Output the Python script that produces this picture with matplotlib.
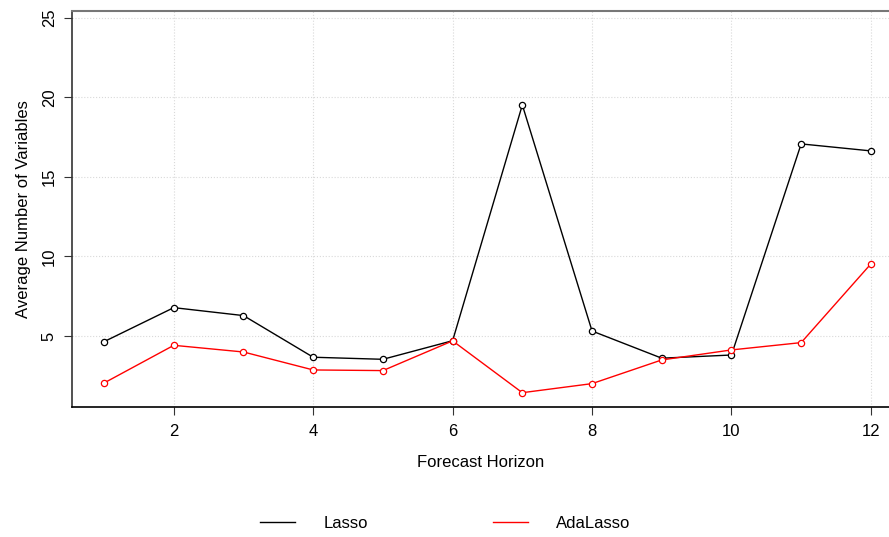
import matplotlib.pyplot as plt
from matplotlib.lines import Line2D

plt.rcParams['font.family'] = ['Liberation Sans', 'DejaVu Sans']

horizon = [1, 2, 3, 4, 5, 6, 7, 8, 9, 10, 11, 12]
lasso = [4.64, 6.78, 6.28, 3.66, 3.53, 4.70, 19.53, 5.31, 3.60, 3.80, 17.08, 16.64]
adalasso = [2.04, 4.41, 3.99, 2.86, 2.82, 4.69, 1.43, 2.00, 3.49, 4.12, 4.58, 9.53]
x_ticks = [2, 4, 6, 8, 10, 12]
y_ticks = [5, 10, 15, 20, 25]

fig = plt.figure(figsize=(8.89, 5.37), dpi=100)
ax = fig.add_axes([0.081, 0.2421, 0.919, 0.7374])

# grid punteado como en R
for xv in x_ticks:
    ax.axvline(xv, color='#d9d9d9', linestyle=':', linewidth=0.8, zorder=0)
for yv in y_ticks:
    ax.axhline(yv, color='#d9d9d9', linestyle=':', linewidth=0.8, zorder=0)

ax.plot(horizon, lasso, color='black', linewidth=1, marker='o', markersize=4.5,
        markerfacecolor='white', markeredgecolor='black', markeredgewidth=0.9)
ax.plot(horizon, adalasso, color='red', linewidth=1, marker='o', markersize=4.5,
        markerfacecolor='white', markeredgecolor='red', markeredgewidth=0.9)

ax.set_xlim(0.54, 12.26)
ax.set_ylim(0.53, 25.44)
ax.set_xticks(x_ticks)
ax.set_yticks(y_ticks)
ax.tick_params(axis='both', labelsize=12, length=6, color='#333333')
ax.tick_params(axis='x', pad=6)
ax.tick_params(axis='y', pad=5)
plt.setp(ax.get_yticklabels(), rotation=90, va='center')

ax.spines['right'].set_visible(False)
ax.spines['top'].set_color('#777777')
ax.spines['top'].set_linewidth(1.5)
ax.spines['left'].set_color('#333333')
ax.spines['left'].set_linewidth(1.2)
ax.spines['bottom'].set_linewidth(1.2)

ax.set_xlabel('Forecast Horizon', fontsize=12, labelpad=12)
ax.set_ylabel('Average Number of Variables', fontsize=12, labelpad=8)

handles = [Line2D([], [], color='black', linewidth=1),
           Line2D([], [], color='red', linewidth=1)]
fig.legend(handles, ['Lasso', 'AdaLasso'], loc='center', bbox_to_anchor=(0.501, 0.025),
           ncol=2, frameon=False, fontsize=12, handlelength=2.1, handletextpad=1.7,
           columnspacing=7.5)

fig.savefig('out.png', dpi=100)
